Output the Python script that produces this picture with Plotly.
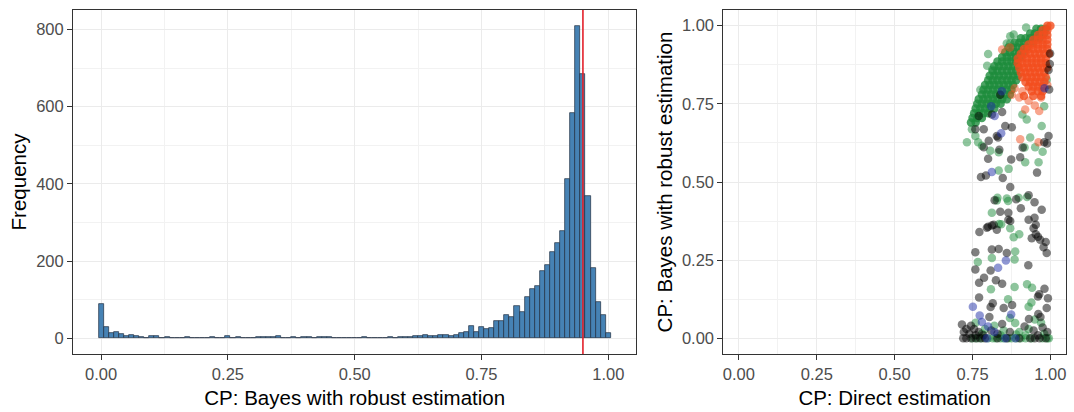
import plotly.graph_objects as go

# ---------------- Histogram: CP (Bayes with robust estimation) ----------------
bin_centers = [round(i * 0.01, 2) for i in range(101)]
bin_counts = [
    90, 29, 14, 17, 11, 7, 10, 7, 3, 1,          # 0.00 - 0.09
    6, 6, 1, 4, 1, 2, 2, 4, 1, 0,                # 0.10 - 0.19
    1, 0, 4, 2, 2, 5, 2, 4, 2, 2,                # 0.20 - 0.29
    1, 3, 3, 3, 3, 6, 2, 2, 4, 1,                # 0.30 - 0.39
    3, 3, 1, 3, 3, 3, 1, 0, 1, 0,                # 0.40 - 0.49
    1, 1, 3, 2, 2, 1, 2, 3, 2, 3,                # 0.50 - 0.59
    4, 4, 5, 6, 10, 5, 5, 10, 9, 6,              # 0.60 - 0.69
    10, 15, 17, 33, 16, 29, 24, 28, 44, 46,      # 0.70 - 0.79
    61, 56, 85, 69, 108, 127, 135, 174, 190, 223,  # 0.80 - 0.89
    246, 279, 412, 585, 809, 684, 369, 181, 95, 61,  # 0.90 - 0.99
    14,                                          # 1.00
]
nominal_level = 0.95

# ---------------- Scatter: direct vs Bayes robust estimation ----------------
# dense green band, rows of constant y
green_rows = {
    0.99: [0.955, 0.97, 0.985],
    0.975: [0.935, 0.95, 0.965, 0.98],
    0.96: [0.905, 0.92, 0.935, 0.95, 0.965],
    0.945: [0.885, 0.90, 0.915, 0.93, 0.945],
    0.93: [0.865, 0.88, 0.895, 0.91, 0.925],
    0.915: [0.855, 0.87, 0.885, 0.90, 0.915],
    0.90: [0.845, 0.86, 0.875, 0.89, 0.905],
    0.885: [0.83, 0.845, 0.86, 0.875, 0.89],
    0.87: [0.82, 0.835, 0.85, 0.865, 0.88, 0.895],
    0.855: [0.815, 0.83, 0.845, 0.86, 0.875, 0.89],
    0.84: [0.805, 0.82, 0.835, 0.85, 0.865, 0.88, 0.895],
    0.825: [0.80, 0.815, 0.83, 0.845, 0.86, 0.875, 0.89],
    0.81: [0.79, 0.805, 0.82, 0.835, 0.85, 0.865, 0.88],
    0.795: [0.785, 0.80, 0.815, 0.83, 0.845, 0.86, 0.875],
    0.78: [0.78, 0.795, 0.81, 0.825, 0.84, 0.855, 0.87],
    0.765: [0.77, 0.785, 0.80, 0.815, 0.83, 0.845, 0.86],
    0.75: [0.765, 0.78, 0.795, 0.81, 0.825, 0.84],
    0.735: [0.76, 0.775, 0.79, 0.805, 0.82],
    0.72: [0.755, 0.77, 0.785, 0.80],
    0.705: [0.75, 0.765, 0.78],
    0.69: [0.745, 0.76],
}
# dense orange wedge, rows of constant y
orange_rows = {
    1.00: [0.99, 1.0],
    0.985: [0.975, 0.99],
    0.97: [0.96, 0.975, 0.99],
    0.955: [0.945, 0.96, 0.975, 0.99],
    0.94: [0.93, 0.945, 0.96, 0.975, 0.99],
    0.925: [0.915, 0.93, 0.945, 0.96, 0.975, 0.99],
    0.91: [0.905, 0.92, 0.935, 0.95, 0.965, 0.98, 0.995],
    0.895: [0.895, 0.91, 0.925, 0.94, 0.955, 0.97, 0.985],
    0.88: [0.895, 0.91, 0.925, 0.94, 0.955, 0.97, 0.985],
    0.865: [0.90, 0.915, 0.93, 0.945, 0.96, 0.975, 0.99],
    0.85: [0.905, 0.92, 0.935, 0.95, 0.965, 0.98],
    0.835: [0.91, 0.925, 0.94, 0.955, 0.97, 0.985],
    0.82: [0.92, 0.935, 0.95, 0.965, 0.98],
    0.805: [0.93, 0.945, 0.96, 0.975],
    0.79: [0.94, 0.96, 0.975],
    0.775: [0.915, 0.945, 0.97],
}

green_x = [
    0.922, 0.882, 0.871, 0.860, 0.871, 0.800, 0.797, 0.813, 0.988, 0.980, 0.972,
    0.732, 0.924, 0.935, 0.951, 0.962, 0.919, 0.866, 0.834, 0.860, 0.828,
    0.768, 0.807, 0.834, 0.917, 0.910, 0.975, 0.830, 0.812, 0.864, 0.898, 0.925, 0.835,
    0.842, 0.871, 0.900, 0.882, 0.767, 0.812, 0.887, 0.885, 0.809, 0.885, 0.925, 0.941,
    0.864, 0.930, 0.939, 0.887, 0.748, 0.759, 0.780, 0.775,
    0.76, 0.79, 0.82, 0.85, 0.90, 0.93, 0.97, 0.98, 0.95, 0.87, 0.78, 0.84, 0.89, 0.92,
    0.75, 0.765, 0.78, 0.80, 0.815, 0.825, 0.84, 0.85, 0.865, 0.875, 0.89, 0.905,
    0.92, 0.94, 0.975, 0.99, 0.995,
]
green_y = [
    0.994, 0.972, 0.966, 0.943, 0.943, 0.909, 0.872, 0.859, 0.827, 0.742, 0.679,
    0.627, 0.700, 0.642, 0.611, 0.563, 0.563, 0.542, 0.537, 0.447, 0.441,
    0.627, 0.600, 0.595, 0.610, 0.716, 0.597, 0.450, 0.402, 0.439, 0.450, 0.452, 0.366,
    0.365, 0.352, 0.333, 0.323, 0.244, 0.257, 0.278, 0.252, 0.157, 0.164, 0.173, 0.162,
    0.125, 0.101, 0.115, 0.049, 0.669, 0.647, 0.616, 0.795,
    0.05, 0.03, 0.04, 0.025, 0.02, 0.03, 0.05, 0.015, 0.06, 0.065, 0.015, 0.01, 0.012, 0.01,
    0.0, 0.0, 0.0, 0.0, 0.0, 0.0, 0.0, 0.0, 0.0, 0.0, 0.0, 0.0,
    0.0, 0.0, 0.0, 0.0, 0.0,
]

orange_x = [0.845, 0.870, 0.903, 0.962, 0.919, 0.964, 0.876, 0.900, 0.930, 0.950,
            0.885, 0.910, 0.970, 0.990]
orange_y = [0.924, 0.930, 0.637, 0.627, 0.732, 0.727, 0.779, 0.770, 0.760, 0.745,
            0.800, 0.790, 0.770, 0.810]

black_x = [
    0.999, 0.998, 0.994, 0.996, 0.839, 0.812, 0.770, 0.786, 0.759, 0.802, 0.828,
    0.855, 0.876, 0.845, 0.994, 0.989, 0.980, 0.786, 0.800, 0.836, 0.874, 0.903,
    0.911, 0.832, 0.957, 0.793, 0.777, 0.847, 0.871, 0.930, 0.890, 0.821, 0.949,
    0.839, 0.865, 0.905, 0.972, 0.949, 0.930, 0.865, 0.800, 0.818, 0.953,
    0.772, 0.796, 0.812, 0.828, 0.871, 0.946, 0.953, 0.967, 0.985, 0.978, 0.988,
    0.940, 0.960, 0.759, 0.812, 0.834, 0.860, 0.808, 0.759, 0.929,
    0.787, 0.771, 0.825, 0.845, 0.964, 0.981, 0.992, 0.960,
    0.771, 0.815, 0.808, 0.850, 0.877, 0.988, 0.961, 0.931,
    0.716, 0.804, 0.845, 0.917, 0.968, 0.946, 0.722,
    0.74, 0.755, 0.77, 0.785, 0.81, 0.83, 0.87, 0.96, 0.975, 0.99, 0.73, 0.745, 0.76,
    0.72, 0.73, 0.745, 0.76, 0.775, 0.79, 0.83, 0.86, 0.90, 0.935, 0.95, 0.965, 0.985,
]
black_y = [
    0.911, 0.877, 0.858, 0.796, 0.779, 0.716, 0.711, 0.669, 0.669, 0.632, 0.647,
    0.679, 0.675, 0.724, 0.647, 0.623, 0.627, 0.611, 0.574, 0.603, 0.572, 0.579,
    0.610, 0.642, 0.530, 0.521, 0.516, 0.513, 0.484, 0.458, 0.445, 0.442, 0.435,
    0.405, 0.402, 0.416, 0.411, 0.386, 0.379, 0.379, 0.357, 0.363, 0.363,
    0.340, 0.354, 0.361, 0.347, 0.375, 0.352, 0.333, 0.315, 0.308, 0.291, 0.273,
    0.320, 0.325, 0.275, 0.284, 0.286, 0.273, 0.217, 0.220, 0.234,
    0.194, 0.178, 0.186, 0.175, 0.141, 0.159, 0.128, 0.134,
    0.131, 0.112, 0.100, 0.097, 0.107, 0.097, 0.078, 0.062,
    0.044, 0.068, 0.046, 0.038, 0.068, 0.025, 0.020,
    0.015, 0.03, 0.02, 0.01, 0.025, 0.015, 0.02, 0.01, 0.035, 0.02, 0.03, 0.04, 0.01,
    0.0, 0.0, 0.0, 0.0, 0.0, 0.0, 0.0, 0.0, 0.0, 0.0, 0.0, 0.0, 0.0,
]

blue_x = [0.810, 0.821, 0.844, 0.981, 0.812, 0.842, 0.857, 0.832, 0.751, 0.773,
          0.874, 0.780, 0.800, 0.820, 0.796, 0.855, 0.887]
blue_y = [0.742, 0.711, 0.790, 0.800, 0.532, 0.656, 0.249, 0.226, 0.101, 0.073,
          0.076, 0.052, 0.038, 0.020, 0.0, 0.0, 0.0]

tick_vals_cp = [0, 0.25, 0.5, 0.75, 1.0]
tick_text_cp = ["0.00", "0.25", "0.50", "0.75", "1.00"]
tick_vals_freq = [0, 200, 400, 600, 800]

# ---------------- styling ----------------
FONT = "Liberation Sans, Arial, Helvetica, sans-serif"
TICK_FONT = dict(family=FONT, size=16.5, color="#4D4D4D")
TITLE_FONT = dict(family=FONT, size=20.5, color="#000000")
GRID = "#EBEBEB"
BORDER = "#333333"
ALPHA = 0.5          # sparse points
ALPHA_DENSE = 0.8    # heavily overplotted core


def flatten(rows):
    xs, ys = [], []
    for yv, row in rows.items():
        for xv in row:
            xs.append(xv)
            ys.append(yv)
    return xs, ys


gdx, gdy = flatten(green_rows)
odx, ody = flatten(orange_rows)

fig = go.Figure()

fig.add_trace(go.Bar(
    x=bin_centers, y=bin_counts, width=0.01,
    marker=dict(color="#4682B4", line=dict(color="#1F2E40", width=0.7)),
    xaxis="x", yaxis="y", showlegend=False,
))

GREEN = "#1E8C3C"
ORANGE = "#F24E1E"
BLACK = "#000000"
BLUE = "#1F2FA8"

for xs, ys, col, a in [
    (gdx, gdy, GREEN, ALPHA_DENSE),
    (green_x, green_y, GREEN, ALPHA),
    (odx, ody, ORANGE, ALPHA_DENSE),
    (orange_x, orange_y, ORANGE, ALPHA),
    (black_x, black_y, BLACK, ALPHA),
    (blue_x, blue_y, BLUE, ALPHA),
]:
    fig.add_trace(go.Scatter(
        x=xs, y=ys, mode="markers",
        marker=dict(color=col, size=8.5, opacity=a, line=dict(width=0)),
        xaxis="x2", yaxis="y2", showlegend=False,
    ))

fig.add_shape(type="line", xref="x", yref="y domain",
              x0=nominal_level, x1=nominal_level, y0=0, y1=1,
              line=dict(color="#E3202A", width=1.6))

left_dom = [0.0, 0.5674]
right_dom = [0.6549, 1.0]

axis_common = dict(
    showline=True, mirror=True, linecolor=BORDER, linewidth=1,
    ticks="outside", ticklen=5, tickwidth=1, tickcolor=BORDER,
    showgrid=True, gridcolor=GRID, gridwidth=1.1, zeroline=False,
    tickfont=TICK_FONT,
)
cp_minor = dict(tickvals=[0.125, 0.375, 0.625, 0.875], showgrid=True,
                gridcolor="#F2F2F2", gridwidth=0.6, ticks="")

fig.update_layout(
    width=1074, height=412,
    margin=dict(l=73, r=7, t=10, b=55),
    paper_bgcolor="white", plot_bgcolor="white",
    bargap=0,
    xaxis=dict(domain=left_dom, range=[-0.0555, 1.0555],
               tickvals=tick_vals_cp, ticktext=tick_text_cp, minor=cp_minor,
               title=dict(text="CP: Bayes with robust estimation", font=TITLE_FONT, standoff=8),
               anchor="y", **axis_common),
    yaxis=dict(range=[-40.5, 850.5], tickvals=tick_vals_freq,
               minor=dict(tickvals=[100, 300, 500, 700], showgrid=True,
                          gridcolor="#F2F2F2", gridwidth=0.6, ticks=""),
               title=dict(text="Frequency", font=TITLE_FONT, standoff=3),
               anchor="x", **axis_common),
    xaxis2=dict(domain=right_dom, range=[-0.05, 1.05],
                tickvals=tick_vals_cp, ticktext=tick_text_cp, minor=cp_minor,
                title=dict(text="CP: Direct estimation", font=TITLE_FONT, standoff=8),
                anchor="y2", **axis_common),
    yaxis2=dict(range=[-0.05, 1.05], tickvals=tick_vals_cp, ticktext=tick_text_cp,
                minor=cp_minor,
                title=dict(text="CP: Bayes with robust estimation", font=TITLE_FONT, standoff=3),
                anchor="x2", **axis_common),
)

fig.write_html("out.html")
